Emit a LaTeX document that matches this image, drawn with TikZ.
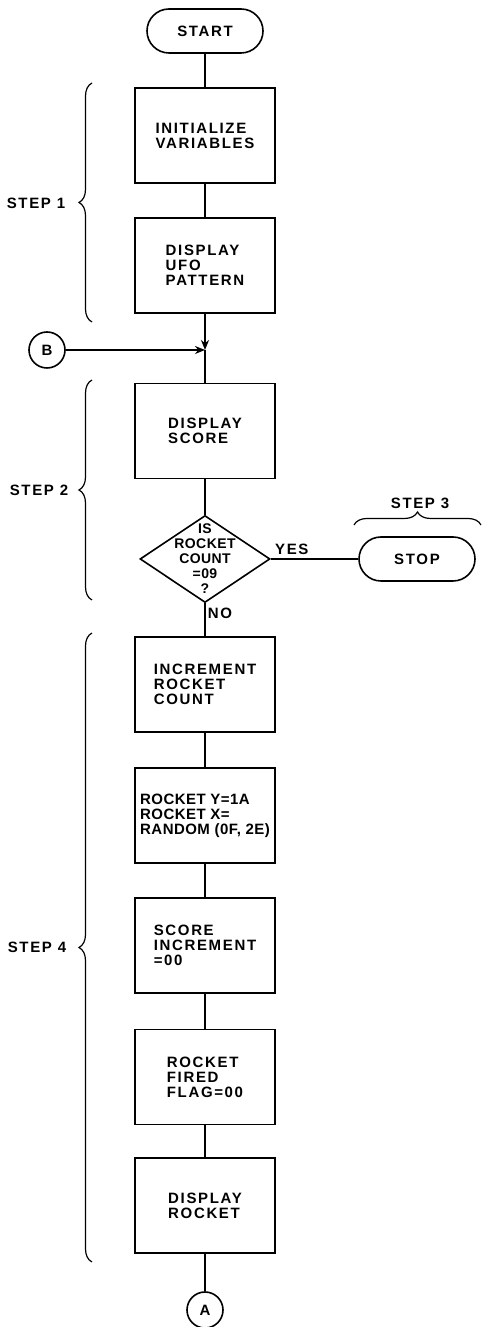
\documentclass[tikz,border=0pt]{standalone}
\usepackage{fontspec}
\usepackage{tikz}
\usetikzlibrary{arrows.meta, positioning, shapes.geometric, shapes.misc, decorations.pathreplacing}
\newfontfamily\chartfont{Liberation Sans}[LetterSpace=11]
\newfontfamily\tightfont{Liberation Sans}[LetterSpace=3]

\begin{document}
\begin{tikzpicture}[x=1pt, y=1pt, line width=1.6pt,
  every node/.style={font=\chartfont\bfseries\fontsize{15}{15}\selectfont},
  stepbox/.style={draw, rectangle, minimum width=140pt, minimum height=95pt, align=left, inner sep=0pt},
  terminal/.style={draw, rounded rectangle, minimum width=116pt, minimum height=44pt, inner sep=0pt},
  decision/.style={draw, diamond, minimum width=130pt, minimum height=87pt, inner sep=0pt},
  dtext/.style={align=center, inner sep=0pt, font=\tightfont\bfseries\fontsize{14}{15}\selectfont},
  joiner/.style={draw, circle, minimum size=36pt, inner sep=0pt},
  bracket/.style={decorate, decoration={brace, amplitude=13pt}, line width=1.2pt},
  flow/.style={-{Stealth[length=10pt, width=8pt]}}]
  \useasboundingbox (0,0) rectangle (482,1327);

  \node[terminal] (start) at (205,1296) {START};
  \node[stepbox] (init) at (205,1191.5) {INITIALIZE\\VARIABLES};
  \node[stepbox] (ufo) at (205,1061.5) {DISPLAY\\UFO\\PATTERN};
  \coordinate (j) at (205,977);
  \node[joiner] (b) at (47,977) {B};
  \node[stepbox] (score) at (205,896) {DISPLAY\\SCORE};
  \node[decision] (test) at (205,768) {};
  \node[dtext] (testq) at (test) {IS\\ROCKET\\COUNT\\=09\\?};
  \node[terminal] (stop) at (417,768) {STOP};
  \node[stepbox] (incr) at (205,642.5) {INCREMENT\\ROCKET\\COUNT};
  \node[stepbox, font=\tightfont\bfseries\fontsize{15}{15}\selectfont] (place) at (205,511.5) {ROCKET Y=1A\\ROCKET X=\\RANDOM (0F, 2E)};
  \node[stepbox] (scoreinc) at (205,381.5) {SCORE\\INCREMENT\\=00};
  \node[stepbox] (fired) at (205,250) {ROCKET\\FIRED\\FLAG=00};
  \node[stepbox] (show) at (205,121.5) {DISPLAY\\ROCKET};
  \node[joiner] (a) at (205,17) {A};

  \draw (start) -- (init);
  \draw (init) -- (ufo);
  \draw[flow] (ufo) -- (j);
  \draw[flow] (b) -- (j);
  \draw (j) -- (score);
  \draw (score) -- (test);
  \draw (test) -- node[above, pos=0.24] (yes) {YES} (stop);
  \draw (test) -- node[right, pos=0.3, inner sep=2pt] (no) {NO} (incr);
  \draw (incr) -- (place);
  \draw (place) -- (scoreinc);
  \draw (scoreinc) -- (fired);
  \draw (fired) -- (show);
  \draw (show) -- (a);

  \draw[bracket] (92,1005) -- (92,1244);
  \draw[bracket] (92,727) -- (92,947);
  \draw[bracket] (92,65) -- (92,694);
  \draw[bracket] (354,802) -- (481,802);
  \node (step1) at (36,1124) {STEP 1};
  \node (step2) at (39,837) {STEP 2};
  \node (step3) at (420,824) {STEP 3};
  \node (step4) at (37,380) {STEP 4};
\end{tikzpicture}
\end{document}
